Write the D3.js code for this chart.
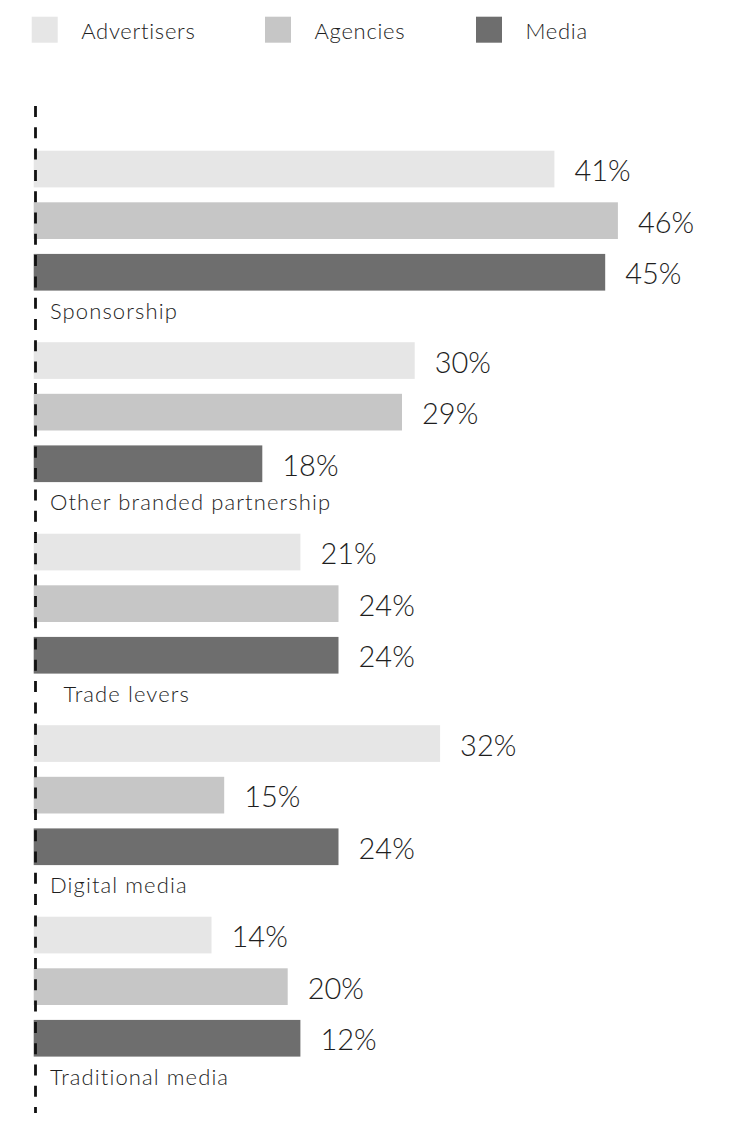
<!DOCTYPE html>
<html>
<head>
<meta charset="utf-8">
<script src="https://cdn.jsdelivr.net/npm/d3@7"></script>
<style>
  html, body { margin: 0; padding: 0; background: #fff; }
  svg { display: block; }
  text { font-family: Lato, "Open Sans", sans-serif; fill: #1e1e1e; }
</style>
</head>
<body>
<svg id="chart" width="731" height="1124"></svg>
<script>
// ---- Data ----
const categories = ["Sponsorship", "Other branded partnership", "\u00A0\u00A0Trade levers", "Digital media", "Traditional media"];
const seriesNames = ["Advertisers", "Agencies", "Media"];
const advertisers = [41, 30, 21, 32, 14];
const agencies    = [46, 29, 24, 15, 20];
const media       = [45, 18, 24, 24, 21];   // bar lengths as drawn in the reference
// value labels as printed in the reference (last Media label reads 12% though its bar is drawn at ~21)
const advertisersLabels = ["41%", "30%", "21%", "32%", "14%"];
const agenciesLabels    = ["46%", "29%", "24%", "15%", "20%"];
const mediaLabels       = ["45%", "18%", "24%", "24%", "12%"];
const colors = ["#e6e6e6", "#c6c6c6", "#6e6e6e"];

const seriesValues = [advertisers, agencies, media];
const seriesLabels = [advertisersLabels, agenciesLabels, mediaLabels];

const rows = [];
categories.forEach((c, i) => {
  seriesNames.forEach((s, j) => {
    rows.push({ cat: c, series: s, value: seriesValues[j][i], label: seriesLabels[j][i] });
  });
});

const svg = d3.select("#chart");

// ---- Scales ----
const x = d3.scaleLinear().domain([0, 50]).range([33.7, 33.7 + 635]);
const y0 = d3.scaleBand().domain(categories).range([150.7, 150.7 + 5 * 191.5]).padding(0);
const y1 = d3.scaleBand().domain(seriesNames).range([0, 139.9]).paddingInner(0.289).paddingOuter(0);
const color = d3.scaleOrdinal().domain(seriesNames).range(colors);

// ---- Legend ----
const legendX = [31.7, 265, 476];
const legend = svg.append("g").attr("class", "legend");
seriesNames.forEach((s, j) => {
  const g = legend.append("g").attr("transform", `translate(${legendX[j]},16.7)`);
  g.append("rect").attr("width", 26).attr("height", 26).attr("fill", color(s));
  g.append("text").attr("x", 49.5).attr("y", 21.8)
    .attr("font-size", 22).attr("font-weight", 300)
    .attr("letter-spacing", 0.7).text(s);
});

// ---- Bars ----
const groups = svg.append("g").selectAll("g.group")
  .data(categories).join("g")
  .attr("class", "group")
  .attr("transform", d => `translate(0,${y0(d)})`);

groups.selectAll("rect")
  .data(c => rows.filter(r => r.cat === c))
  .join("rect")
  .attr("x", x(0))
  .attr("y", d => y1(d.series))
  .attr("width", d => x(d.value) - x(0))
  .attr("height", y1.bandwidth())
  .attr("fill", d => color(d.series));

groups.selectAll("text.value")
  .data(c => rows.filter(r => r.cat === c))
  .join("text")
  .attr("class", "value")
  .attr("x", d => x(d.value) + 20)
  .attr("y", d => y1(d.series) + y1.bandwidth() / 2 + 12)
  .attr("font-size", 29)
  .attr("font-weight", 300)
  .text(d => d.label);

groups.append("text")
  .attr("class", "cat")
  .attr("x", 50)
  .attr("y", 168)
  .attr("font-size", 22)
  .attr("font-weight", 300)
  .attr("letter-spacing", 1.1)
  .style("white-space", "pre")
  .text(d => d);

// ---- Dashed axis ----
svg.append("line")
  .attr("x1", 35.5).attr("x2", 35.5)
  .attr("y1", 106).attr("y2", 1113)
  .attr("stroke", "#111")
  .attr("stroke-width", 2.8)
  .attr("stroke-dasharray", "11,10.3");
</script>
</body>
</html>
